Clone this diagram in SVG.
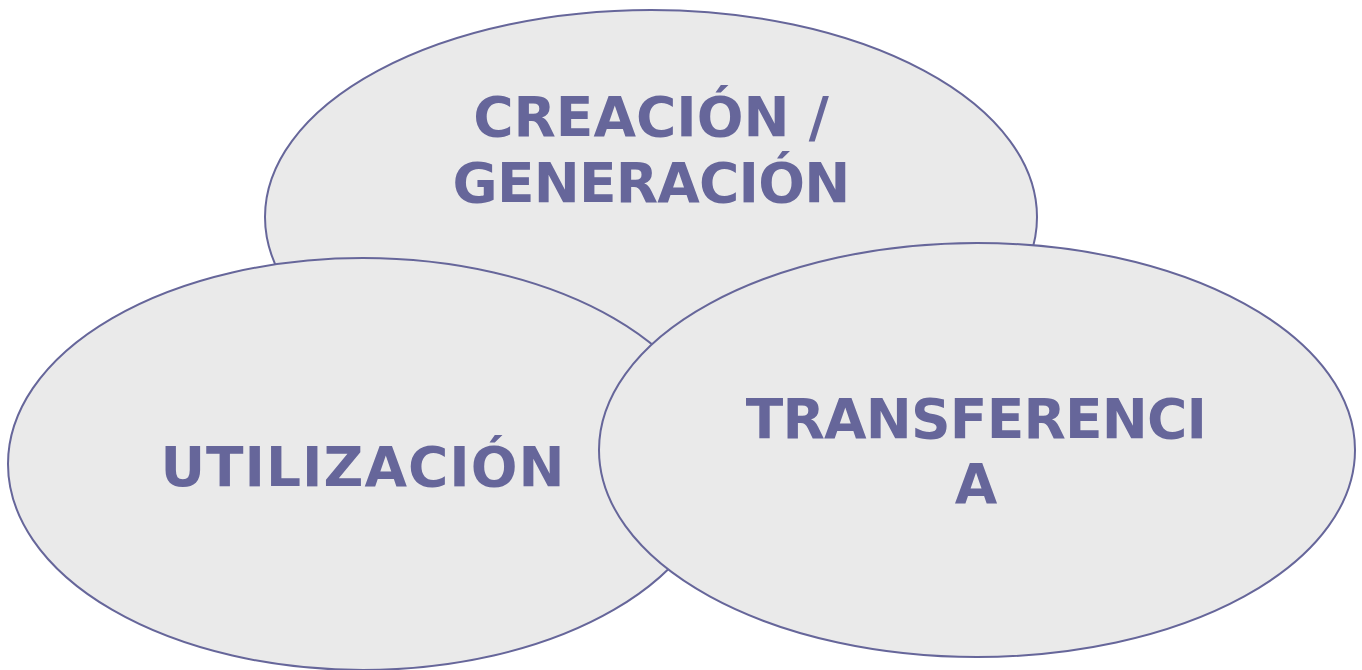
<svg xmlns="http://www.w3.org/2000/svg" width="1362" height="670" viewBox="0 0 1362 670">
<style>
.n{fill:#EAEAEA;stroke:#66669A;stroke-width:2}
.t{font-family:"DejaVu Sans",Verdana,sans-serif;font-weight:bold;font-size:55px;fill:#66669A;text-anchor:middle}
</style>
<rect width="1362" height="670" fill="#FFFFFF"/>
<g id="creacion">
<ellipse class="n" cx="651" cy="217" rx="386" ry="207"/>
<text class="t" x="651" y="136">CREACIÓN /</text>
<text class="t" x="651" y="202" letter-spacing="-0.8">GENERACIÓN</text>
</g>
<g id="utilizacion">
<ellipse class="n" cx="363" cy="464" rx="355" ry="206"/>
<text class="t" x="363" y="486" letter-spacing="1">UTILIZACIÓN</text>
</g>
<g id="transferencia">
<ellipse class="n" cx="977" cy="450" rx="378" ry="207"/>
<text class="t" x="976" y="438" letter-spacing="-0.8">TRANSFERENCI</text>
<text class="t" x="976" y="503">A</text>
</g>
<g id="connectors"/>
</svg>
